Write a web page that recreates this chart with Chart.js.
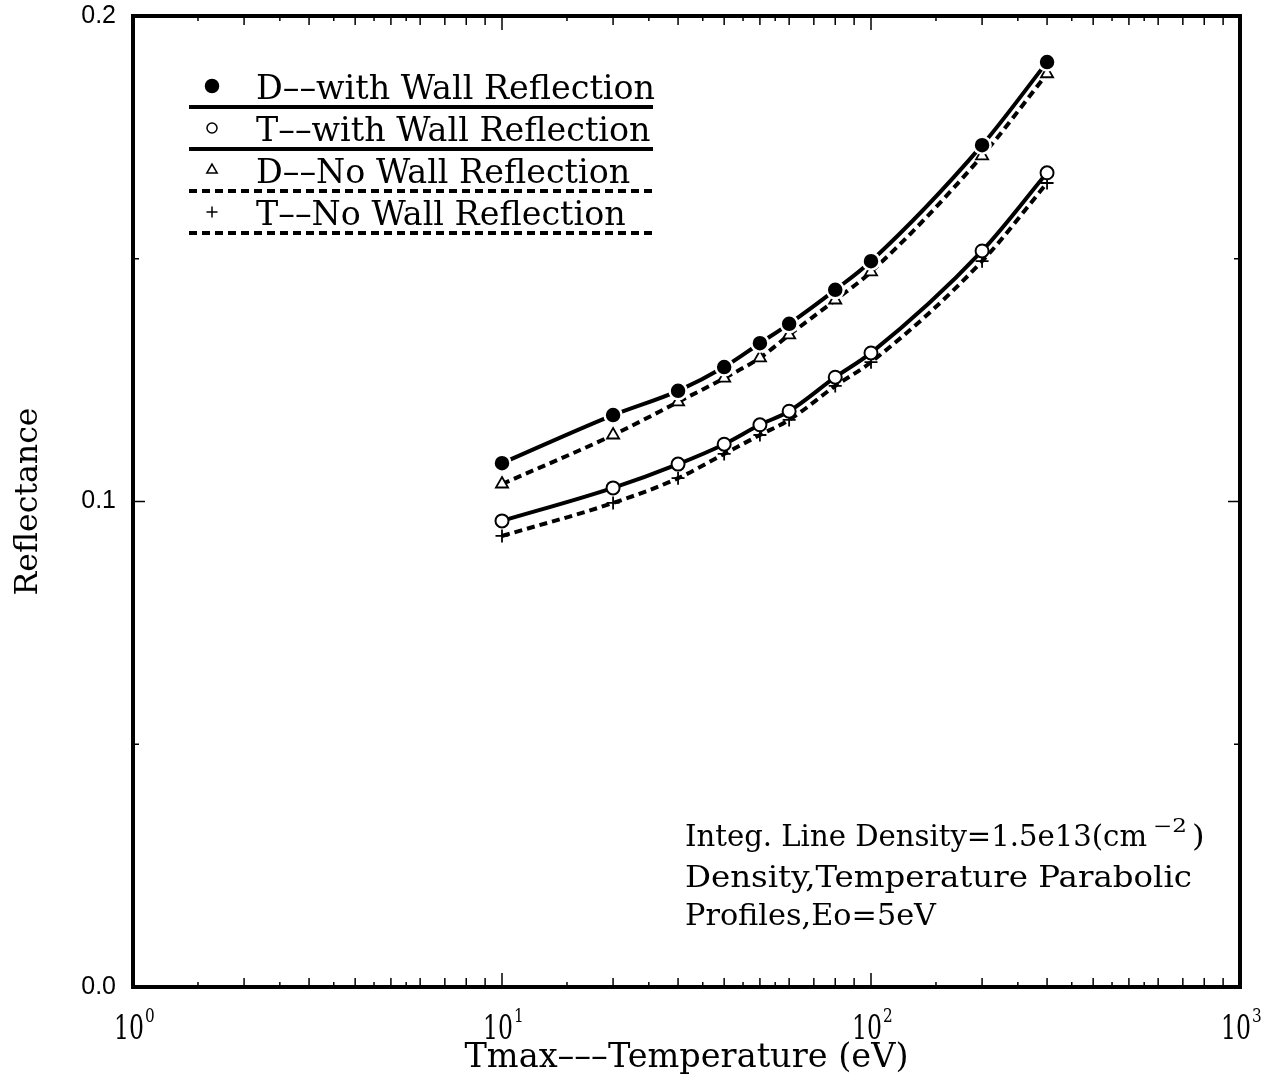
<!DOCTYPE html>
<html>
<head>
<meta charset="utf-8">
<script src="https://cdn.jsdelivr.net/npm/chart.js@4.4.0/dist/chart.umd.min.js"></script>
<style>
	body { margin: 0; background: #fff; }
</style>
</head>
<body>
<canvas id="chart" width="1277" height="1080"></canvas>
<script>

// Tmax (eV) sample points and reflectance for each case
var temps = [10, 20, 30, 40, 50, 60, 80, 100, 200, 300];
var dWall = [0.1079, 0.1178, 0.1228, 0.1277, 0.1326, 0.1366, 0.1436, 0.1495, 0.1734, 0.1905];
var tWall = [0.0960, 0.1028, 0.1077, 0.1118, 0.1158, 0.1186, 0.1256, 0.1306, 0.1516, 0.1677];
var dNoWall = [0.1036, 0.1137, 0.1205, 0.1254, 0.1296, 0.1343, 0.1415, 0.1473, 0.1712, 0.1881];
var tNoWall = [0.0929, 0.0997, 0.1048, 0.1098, 0.1137, 0.1168, 0.1238, 0.1287, 0.1495, 0.1656];

var seriesNames = ['D\u2013\u2013with Wall Reflection', 'T\u2013\u2013with Wall Reflection',
	'D\u2013\u2013No Wall Reflection', 'T\u2013\u2013No Wall Reflection'];

var yTicks = [0, 0.1, 0.2];
var yMinorTicks = [0.05, 0.1, 0.15];
var decades = [1, 10, 100, 1000];
var decadeExp = ['0', '1', '2', '3'];
var minorSteps = [1.5, 2, 2.5, 3, 3.5, 4, 4.5, 5, 5.5, 6, 7, 8, 9];

var noteLines = ['Integ. Line Density=1.5e13(cm', 'Density,Temperature Parabolic', 'Profiles,Eo=5eV'];

var serif = '"DejaVu Serif", "Liberation Serif", serif';

function pts(vals) {
	return temps.map(function (t, i) { return { x: t, y: vals[i] }; });
}

// draw text squeezed horizontally by factor k
function sText(ctx, str, x, y, size, k, align) {
	ctx.save();
	ctx.font = size + 'px ' + serif;
	ctx.textAlign = align || 'left';
	ctx.textBaseline = 'alphabetic';
	ctx.translate(x, y);
	ctx.scale(k, 1);
	ctx.fillText(str, 0, 0);
	ctx.restore();
}

function fitK(ctx, str, size, width) {
	ctx.font = size + 'px ' + serif;
	return width / ctx.measureText(str).width;
}

var frame = {
	id: 'frame',
	afterDraw: function (chart) {
		var ctx = chart.ctx, a = chart.chartArea;
		var xs = chart.scales.x, ys = chart.scales.y;
		ctx.save();
		ctx.strokeStyle = '#000';
		ctx.fillStyle = '#000';

		// inward ticks, top and bottom
		ctx.lineWidth = 1.5;
		ctx.beginPath();
		decades.slice(0, 3).forEach(function (d, di) {
			minorSteps.forEach(function (m) {
				var px = xs.getPixelForValue(d * m);
				var len = (m % 1) ? 5 : 9;
				ctx.moveTo(px, a.bottom); ctx.lineTo(px, a.bottom - len);
				ctx.moveTo(px, a.top); ctx.lineTo(px, a.top + len);
			});
			if (di > 0) {
				var p = xs.getPixelForValue(d);
				ctx.moveTo(p, a.bottom); ctx.lineTo(p, a.bottom - 14);
				ctx.moveTo(p, a.top); ctx.lineTo(p, a.top + 14);
			}
		});
		yMinorTicks.forEach(function (v, i) {
			var py = ys.getPixelForValue(v);
			var len = i === 1 ? 12 : 6;
			ctx.moveTo(a.left, py); ctx.lineTo(a.left + len, py);
			ctx.moveTo(a.right, py); ctx.lineTo(a.right - len, py);
		});
		ctx.stroke();

		ctx.lineWidth = 4;
		ctx.strokeRect(a.left, a.top, a.right - a.left, a.bottom - a.top);

		// decade labels 10^n
		var kd = fitK(ctx, '10', 33, 30);
		decades.forEach(function (d, i) {
			var px = xs.getPixelForValue(d);
			sText(ctx, '10', px + 11, a.bottom + 52, 33, kd, 'right');
			sText(ctx, decadeExp[i], px + 12, a.bottom + 35, 18, 0.85, 'left');
		});

		// axis titles
		var xt = 'Tmax\u2013\u2013\u2013Temperature (eV)';
		sText(ctx, xt, (a.left + a.right) / 2, 1067, 33, fitK(ctx, xt, 33, 444), 'center');
		ctx.save();
		ctx.translate(37, (a.top + a.bottom) / 2);
		ctx.rotate(-Math.PI / 2);
		sText(ctx, 'Reflectance', 0, 0, 31, fitK(ctx, 'Reflectance', 31, 188), 'center');
		ctx.restore();

		// legend block
		var ds = chart.data.datasets;
		var kl = fitK(ctx, ds[0].label, 33, 399);
		var symR = [6.5, 5, 6, 5.5];
		ds.forEach(function (d, i) {
			var base = 99 + i * 42;
			ctx.save();
			ctx.fillStyle = i === 0 ? '#000' : '#fff';
			ctx.strokeStyle = '#000';
			ctx.lineWidth = 1.5;
			Chart.helpers.drawPoint(ctx, { pointStyle: d.pointStyle, radius: symR[i], rotation: 0, borderWidth: 1.5 }, 212, base - 13);
			ctx.restore();
			ctx.fillStyle = '#000';
			sText(ctx, d.label, 256, base, 33, kl, 'left');
			ctx.save();
			ctx.lineWidth = 4;
			ctx.setLineDash(d.borderDash || []);
			ctx.beginPath();
			ctx.moveTo(189, base + 8);
			ctx.lineTo(653, base + 8);
			ctx.stroke();
			ctx.restore();
		});

		// run parameters
		var kn = fitK(ctx, noteLines[1], 29, 507);
		var k1 = fitK(ctx, noteLines[0], 29, 462);
		sText(ctx, noteLines[0], 685, 846, 29, k1, 'left');
		var ks = fitK(ctx, '\u22122', 18, 34);
		sText(ctx, '\u22122', 1153, 832, 18, ks, 'left');
		sText(ctx, ')', 1192, 846, 29, kn, 'left');
		sText(ctx, noteLines[1], 685, 887, 29, kn, 'left');
		sText(ctx, noteLines[2], 685, 925, 29, fitK(ctx, noteLines[2], 29, 251), 'left');

		ctx.restore();
	}
};

var data = {
	datasets: [{
		label: seriesNames[0],
		data: pts(dWall),
		borderColor: '#000',
		borderWidth: 4,
		pointStyle: 'circle',
		pointRadius: 8.5,
		pointBackgroundColor: '#000',
		pointBorderColor: '#fff',
		pointBorderWidth: 2.5
	}, {
		label: seriesNames[1],
		data: pts(tWall),
		borderColor: '#000',
		borderWidth: 4,
		pointStyle: 'circle',
		pointRadius: 6.5,
		pointBackgroundColor: '#fff',
		pointBorderColor: '#000',
		pointBorderWidth: 2
	}, {
		label: seriesNames[2],
		data: pts(dNoWall),
		borderColor: '#000',
		borderWidth: 4,
		borderDash: [8, 5],
		pointStyle: 'triangle',
		pointRadius: 7,
		pointBackgroundColor: '#fff',
		pointBorderColor: '#000',
		pointBorderWidth: 1.8
	}, {
		label: seriesNames[3],
		data: pts(tNoWall),
		borderColor: '#000',
		borderWidth: 4,
		borderDash: [8, 5],
		pointStyle: 'cross',
		pointRadius: 6.5,
		pointBackgroundColor: '#fff',
		pointBorderColor: '#000',
		pointBorderWidth: 1.8
	}]
};

var options = {
	responsive: false,
	animation: false,
	layout: { padding: { top: 16, right: 37, left: 0, bottom: 0 } },
	elements: { line: { cubicInterpolationMode: 'monotone', fill: false } },
	plugins: { legend: { display: false }, tooltip: { enabled: false } },
	scales: {
		x: {
			type: 'logarithmic',
			min: 1,
			max: 1000,
			grid: { display: false, drawTicks: false },
			border: { display: false },
			ticks: { display: false },
			afterFit: function (s) { s.height = 93; s.paddingLeft = 0; s.paddingRight = 0; }
		},
		y: {
			min: 0,
			max: 0.2,
			grid: { display: false, drawTicks: false },
			border: { display: false },
			afterBuildTicks: function (s) { s.ticks = yTicks.map(function (v) { return { value: v }; }); },
			ticks: {
				padding: 17,
				color: '#000',
				font: { family: '"Liberation Sans", Arial, sans-serif', size: 25 },
				callback: function (v) { return v.toFixed(1); }
			},
			afterFit: function (s) { s.width = 133; s.paddingTop = 0; s.paddingBottom = 0; }
		}
	}
};

var chartInstance = new Chart(document.getElementById('chart').getContext('2d'), {
	type: 'line',
	data: data,
	options: options,
	plugins: [frame]
});
</script>
</body>
</html>
